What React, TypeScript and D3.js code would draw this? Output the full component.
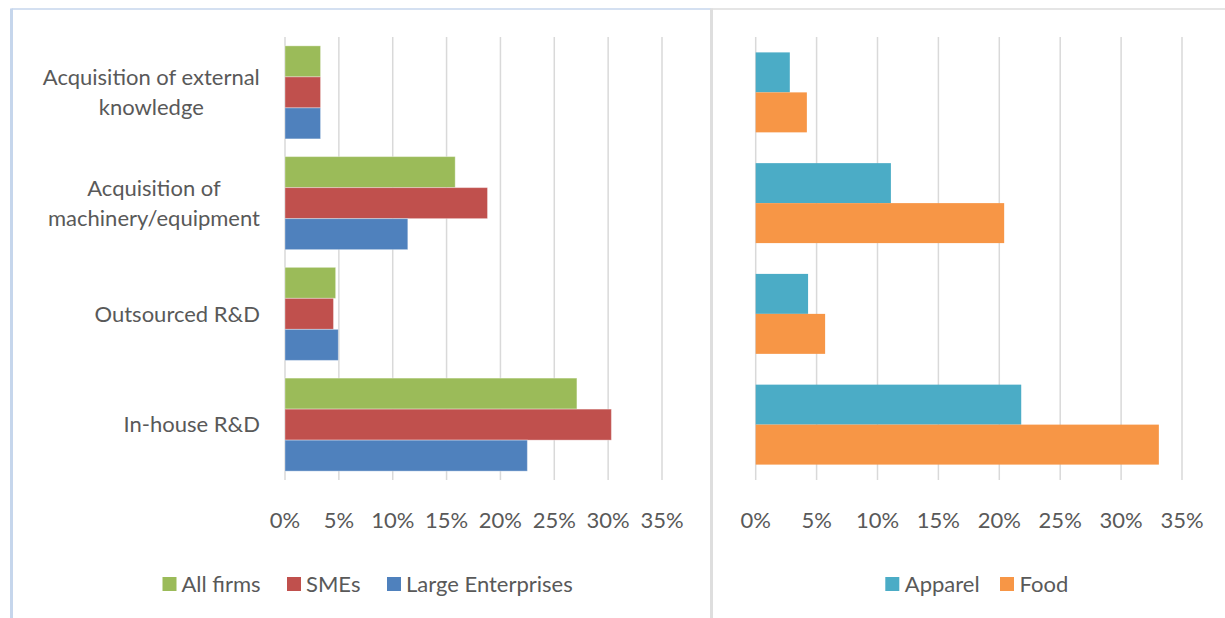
import React from "react";
import * as d3 from "d3";

const categories = [
  "Acquisition of external knowledge",
  "Acquisition of machinery/equipment",
  "Outsourced R&D",
  "In-house R&D",
];
const categoryLines = [
  ["Acquisition of external", "knowledge"],
  ["Acquisition of", "machinery/equipment"],
  ["Outsourced R&D"],
  ["In-house R&D"],
];

const leftSeries = ["All firms", "SMEs", "Large Enterprises"];
const allFirms = [3.3, 15.8, 4.7, 27.1];
const smes = [3.3, 18.8, 4.5, 30.3];
const largeEnterprises = [3.3, 11.4, 4.95, 22.5];

const rightSeries = ["Apparel", "Food"];
const apparel = [2.8, 11.1, 4.3, 21.8];
const food = [4.2, 20.4, 5.7, 33.1];

const xTicks = [0, 5, 10, 15, 20, 25, 30, 35];

const FONT = "Lato, 'Open Sans', sans-serif";
const TEXT = "#595959";
const GRID = "#d9d9d9";

const leftColors = ["#9BBB59", "#C0504D", "#4F81BD"];
const rightColors = ["#4BACC6", "#F79646"];

function measure(text: string, size: number) {
  const c = document.createElement("canvas").getContext("2d")!;
  c.font = `${size}px Lato`;
  return c.measureText(text).width;
}

export default function App() {
  const top = 37;
  const bottom = 480;
  const fs = 22;

  const yBandL = d3.scaleBand<string>().domain(categories).range([top, bottom]).paddingInner(0.16).paddingOuter(0.08);
  const ySubL = d3.scaleBand<string>().domain(leftSeries).range([0, yBandL.bandwidth()]);
  const xL = d3.scaleLinear().domain([0, 35]).range([285, 662]);

  const yBandR = d3.scaleBand<string>().domain(categories).range([top, bottom]).paddingInner(0.278).paddingOuter(0.139);
  const ySubR = d3.scaleBand<string>().domain(rightSeries).range([0, yBandR.bandwidth()]);
  const xR = d3.scaleLinear().domain([0, 35]).range([755.7, 1182]);

  const leftData = [allFirms, smes, largeEnterprises];
  const rightData = [apparel, food];

  const labelRight = 260;

  return (
    <div style={{ position: "absolute", left: 0, top: 0 }}>
      <svg width={1225} height={618} style={{ display: "block", background: "#fff" }} fontFamily={FONT}>
        {/* panel borders */}
        <line x1={11.5} x2={711} y1={9} y2={9} stroke="#c6d6ec" strokeWidth={1.5} />
        <line x1={11.5} x2={11.5} y1={8.5} y2={618} stroke="#c6d6ec" strokeWidth={3} />
        <line x1={711} x2={1225} y1={9} y2={9} stroke="#dcdcdc" strokeWidth={1.5} />
        <line x1={711.5} x2={711.5} y1={8.5} y2={618} stroke="#dedede" strokeWidth={3} />

        {/* gridlines */}
        {xTicks.map((t) => (
          <line key={"gl" + t} x1={xL(t)} x2={xL(t)} y1={top} y2={bottom} stroke={GRID} strokeWidth={1.5} />
        ))}
        {xTicks.map((t) => (
          <line key={"gr" + t} x1={xR(t)} x2={xR(t)} y1={top} y2={bottom} stroke={GRID} strokeWidth={1.5} />
        ))}

        {/* left bars */}
        {leftData.map((vals, si) =>
          vals.map((v, ci) => (
            <rect
              key={`l${si}-${ci}`}
              x={xL(0)}
              y={yBandL(categories[ci])! + ySubL(leftSeries[si])!}
              width={xL(v) - xL(0)}
              height={ySubL.bandwidth()}
              fill={leftColors[si]}
              stroke="rgba(255,255,255,0.35)"
              strokeWidth={1}
            />
          ))
        )}

        {/* right bars */}
        {rightData.map((vals, si) =>
          vals.map((v, ci) => (
            <rect
              key={`r${si}-${ci}`}
              x={xR(0)}
              y={yBandR(categories[ci])! + ySubR(rightSeries[si])!}
              width={xR(v) - xR(0)}
              height={ySubR.bandwidth()}
              fill={rightColors[si]}
            />
          ))
        )}

        {/* category labels */}
        {categoryLines.map((lines, ci) => {
          const cy = yBandL(categories[ci])! + yBandL.bandwidth() / 2;
          const widths = lines.map((l) => measure(l, fs));
          const maxW = Math.max(...widths);
          const cx = labelRight - maxW / 2;
          const lh = 30;
          return (
            <text key={"c" + ci} fill={TEXT} fontSize={fs} textAnchor="middle">
              {lines.map((l, li) => (
                <tspan key={li} x={cx} y={cy + (li - (lines.length - 1) / 2) * lh} dy="0.35em">
                  {l}
                </tspan>
              ))}
            </text>
          );
        })}

        {/* tick labels */}
        {xTicks.map((t) => (
          <text key={"tl" + t} x={xL(t)} y={520} dy="0.35em" textAnchor="middle" fill={TEXT} fontSize={fs}>
            {t + "%"}
          </text>
        ))}
        {xTicks.map((t) => (
          <text key={"tr" + t} x={xR(t)} y={520} dy="0.35em" textAnchor="middle" fill={TEXT} fontSize={fs}>
            {t + "%"}
          </text>
        ))}

        {/* legends */}
        {(() => {
          const items = leftSeries.map((s, i) => ({ s, c: leftColors[i] }));
          const xs = [162.5, 287, 387];
          return items.map((it, i) => (
            <g key={"lg" + i}>
              <rect x={xs[i]} y={577} width={14} height={14} fill={it.c} />
              <text x={xs[i] + 19} y={584} dy="0.35em" fill={TEXT} fontSize={fs}>
                {it.s}
              </text>
            </g>
          ));
        })()}
        {(() => {
          const items = rightSeries.map((s, i) => ({ s, c: rightColors[i] }));
          const xs = [885.3, 1000];
          return items.map((it, i) => (
            <g key={"rg" + i}>
              <rect x={xs[i]} y={577} width={14} height={14} fill={it.c} />
              <text x={xs[i] + 19.5} y={584} dy="0.35em" fill={TEXT} fontSize={fs}>
                {it.s}
              </text>
            </g>
          ));
        })()}
      </svg>
    </div>
  );
}
